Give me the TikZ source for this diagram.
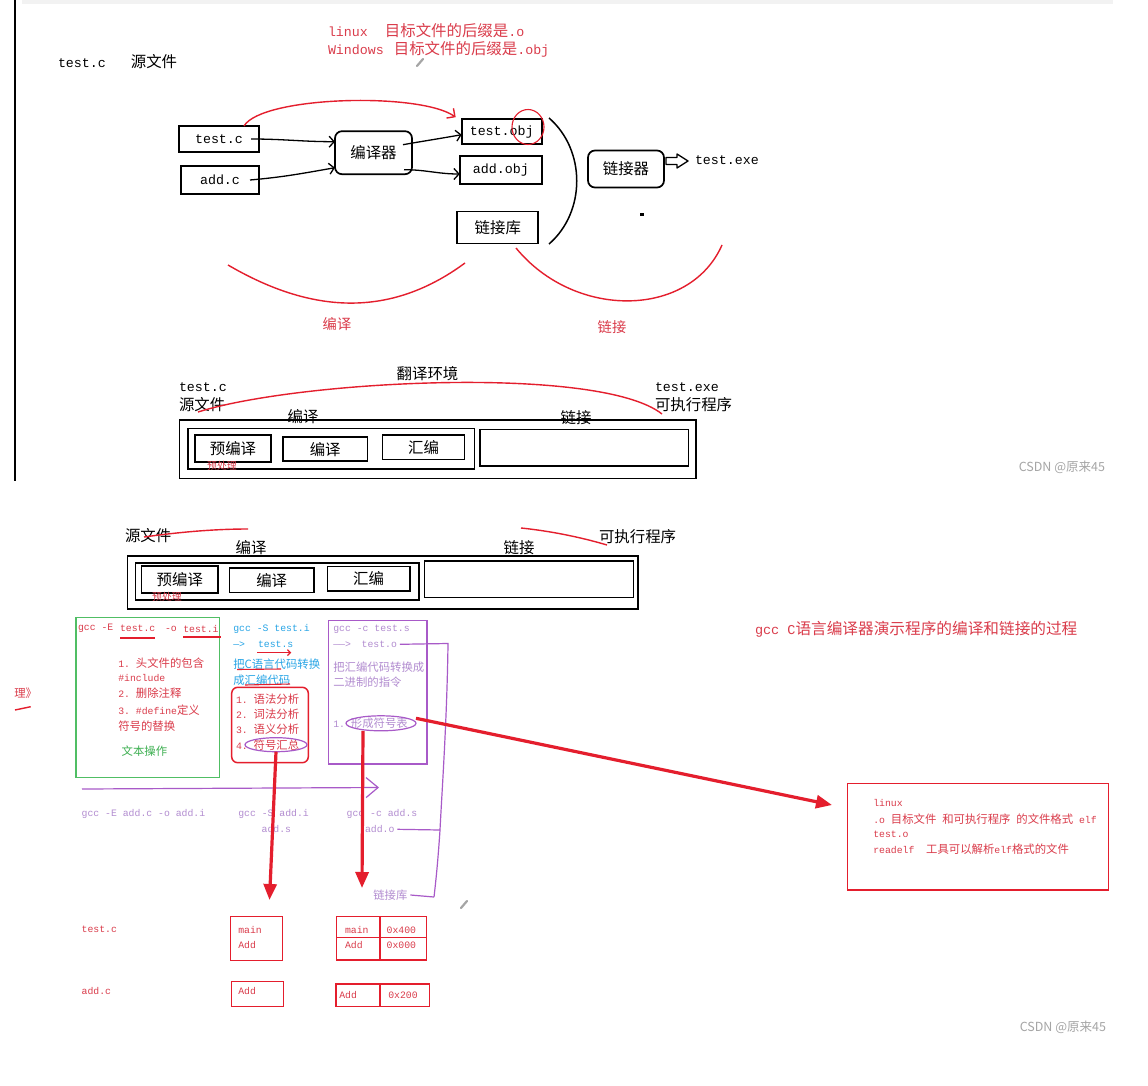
\documentclass[tikz,border=0pt]{standalone}
\usepackage{fontspec}
\setmainfont{Liberation Mono}
\newfontfamily\zhfont[Scale=1.16]{Noto Sans CJK SC}
\newfontfamily\wmfont{Noto Sans CJK SC}
\newcommand{\zh}[1]{{\zhfont #1}}
\usetikzlibrary{arrows.meta,shapes.geometric}
\definecolor{inkred}{RGB}{228,30,45}
\definecolor{txtred}{RGB}{218,60,75}
\definecolor{inkgreen}{RGB}{80,190,100}
\definecolor{txtgreen}{RGB}{60,175,80}
\definecolor{inkpurple}{RGB}{168,90,200}
\definecolor{txtpurple}{RGB}{178,140,208}
\definecolor{txtblue}{RGB}{40,165,230}
\definecolor{wmgray}{RGB}{165,165,165}
\frenchspacing

\begin{document}
\begin{tikzpicture}[x=1pt,y=-1pt,
  every node/.style={inner sep=0pt,outer sep=0pt},
  fbig/.style={font=\fontsize{13.3}{16}\selectfont},
  fmid/.style={font=\fontsize{12.3}{15}\selectfont},
  fsm/.style={font=\fontsize{9.8}{12}\selectfont},
  ftiny/.style={font=\fontsize{8.5}{10}\selectfont},
  frame/.style 2 args={draw,line width=1.7pt,minimum width=#1,minimum height=#2},
  rframe/.style 2 args={frame={#1}{#2},rounded corners=7pt},
  redframe/.style 2 args={draw=inkred,line width=1.5pt,minimum width=#1,minimum height=#2},
  ring/.style 2 args={ellipse,draw=inkpurple,line width=1.2pt,minimum width=#1,minimum height=#2},
  hand/.style={line width=1.3pt,-{Straight Barb[length=5pt,width=11pt]}},
  redpen/.style={inkred,line width=1.4pt},
  purpen/.style={inkpurple,line width=1.2pt},
  fatarrow/.style={inkred,line width=3.2pt,-{Triangle[length=16pt,width=13pt]}}]
\useasboundingbox (0,0) rectangle (1148,1086);
\fill[white] (0,0) rectangle (1148,1086);

% first screenshot
\fill[black!5] (22,0) rectangle (1113,4);
\draw[line width=1.5pt] (15,0) -- (15,481);
\node[fbig,anchor=west] (srcnote) at (58,62) {test.c\hspace{25pt}\zh{源文件}};
\node[fbig,anchor=west,text=txtred] (lnxnote) at (328,31) {linux\hspace{17pt}\zh{目标文件的后缀是}.o};
\node[fbig,anchor=west,text=txtred] (winnote) at (328,49) {Windows\hspace{10pt}\zh{目标文件的后缀是}.obj};
\draw[wmgray,line width=2.2pt,line cap=round] (417,66) -- (423,59);

\node[frame={80}{26},fbig] (testc) at (219,139) {test.c};
\node[frame={78}{28},fbig] (addc) at (220,180) {add.c\hspace{10pt}};
\node[rframe={77}{43},fbig] (compiler) at (373.5,152.7) {\zh{编译器}\hspace{11pt}};
\node[frame={80}{25},fbig] (testobj) at (501.7,131.7) {test.obj};
\node[frame={82}{28},fbig] (addobj) at (500.8,170) {add.obj\hspace{8pt}};
\node[frame={81}{32},fbig] (library) at (497.8,227.5) {\zh{链接库}\hspace{30pt}};
\node[rframe={76}{37},fbig] (linker) at (626,169) {\zh{链接器}\hspace{9pt}};
\node[fbig,anchor=west] (exe) at (695,160) {test.exe};
\coordinate (exq) at ([yshift=8pt]linker.east);
\draw[line width=1.3pt,line join=round] ([xshift=2pt,yshift=3.5pt]exq) -- ++(11,0) -- ++(0,-3.5)
  -- ++(11,7) -- ++(-11,7) -- ++(0,-3.5) -- ++(-11,0) -- cycle;
\fill (640,213) rectangle (644,216);

\draw[hand] ([xshift=-8pt]testc.east) to[out=0,in=180] ([yshift=11pt]compiler.west);
\draw[hand] ([xshift=-9pt]addc.east) to[out=5,in=190] ([yshift=-15pt]compiler.west);
\draw[hand] ([xshift=-9pt,yshift=8pt]compiler.east) to[out=10,in=190] ([yshift=-3pt]testobj.west);
\draw[hand] ([xshift=-8pt,yshift=-17pt]compiler.east) to[out=0,in=180] ([yshift=-4pt]addobj.west);
\draw[redpen,-{Straight Barb[length=6pt,width=12pt]}] ([xshift=25pt]testc.north)
  .. controls (262,96) and (420,92) .. ([xshift=-6pt,yshift=2pt]testobj.north west);
\node[ellipse,draw=inkred,line width=1.1pt,minimum width=32,minimum height=35] (objmark) at (528,127) {};
\draw[line width=1.5pt] (549,118) .. controls (586,150) and (586,212) .. (549,244);

\draw[redpen] (228,265) .. controls (305,310) and (385,322) .. (465,263);
\draw[redpen] (516,248) .. controls (575,320) and (690,318) .. (722,245);
\node[fmid,text=txtred] (labcomp) at (337,324) {\zh{编译}};
\node[fmid,text=txtred] (lablink) at (612,327) {\zh{链接}};

% translation environment
\node[fbig,anchor=west] (srcA1) at (179,387.5) {test.c};
\node[fbig,anchor=west] (srcA2) at (179,405) {\zh{源文件}};
\node[fbig] (envlab) at (427.5,374) {\zh{翻译环境}};
\node[fbig,anchor=west] (exeA1) at (655,387.5) {test.exe};
\node[fbig,anchor=west] (exeA2) at (655,405) {\zh{可执行程序}};
\draw[redpen] (198,412) .. controls (300,380) and (600,365) .. (662,414);
\node[frame={516.7}{58.3}] (outerA) at (437.7,449.2) {};
\node[frame={286.6}{40.7}] (compA) at (331.1,448.7) {};
\node[frame={75.5}{26.7},fbig] (preA) at (233,448.4) {\zh{预编译}\hspace{11pt}};
\node[frame={84.4}{24},fbig] (ccA) at (325.2,449.3) {\zh{编译}\hspace{20pt}};
\node[frame={81.8}{24.3},fbig] (asmA) at (423.5,447.2) {\zh{汇编}\hspace{23pt}};
\node[frame={208.5}{36.7}] (lnkA) at (584.2,447.7) {};
\node[fbig] (complabA) at (303,416.7) {\zh{编译}};
\node[fbig] (linklabA) at (576,417.5) {\zh{链接}};
\node[ftiny,text=txtred] (ppA) at (222,466) {\zh{预处理}};

% second screenshot
\node[fbig,anchor=west] (srcC) at (125,536) {\zh{源文件}};
\draw[redpen] (144,537) .. controls (180,532) and (215,529) .. (248,529);
\node[fbig,anchor=west] (exeC) at (599,536.5) {\zh{可执行程序}};
\draw[redpen] (521,528) .. controls (550,531) and (580,537) .. (607,545);
\node[frame={510.3}{53}] (outerC) at (382.5,582.5) {};
\node[frame={283.5}{37}] (compC) at (277.3,581.5) {};
\node[frame={76.4}{26.7},fbig] (preC) at (179.8,579.4) {\zh{预编译}\hspace{17pt}};
\node[frame={84.5}{24.3},fbig] (ccC) at (271.7,580.2) {\zh{编译}\hspace{25pt}};
\node[frame={82.5}{24.2},fbig] (asmC) at (368.6,578.6) {\zh{汇编}\hspace{19pt}};
\node[frame={209}{36.3}] (lnkC) at (529,579.2) {};
\node[fbig] (complabC) at (251,548) {\zh{编译}};
\node[fbig] (linklabC) at (519,548) {\zh{链接}};
\node[ftiny,text=txtred] (ppC) at (167,596.5) {\zh{预处理}};

% preprocessing column
\node[draw=inkgreen,line width=1.6pt,minimum width=143.3,minimum height=160] (prebox) at (147.7,697.3) {};
\node[fsm,anchor=west,text=txtred] (gccE) at (78,628.5) {gcc -E};
\node[fsm,anchor=west,text=txtred] (tcE) at (120,628.5) {test.c};
\node[fsm,anchor=west,text=txtred] (oE) at (165,628.5) {-o};
\node[fsm,anchor=west,text=txtred] (tiE) at (183.3,628.5) {test.i};
\draw[redpen] ([yshift=-6pt]tcE.south west) -- ([yshift=-6pt]tcE.south east);
\draw[redpen] ([yshift=-5pt]tiE.south west) -- ([yshift=-5pt,xshift=2pt]tiE.south east);
\foreach \y/\t [count=\i] in {662.7/{1. \zh{头文件的包含}},678.3/{\#include},692.7/{2. \zh{删除注释}},
    710/{3. \#define\zh{定义}},726/{\zh{符号的替换}}}
  \node[fsm,anchor=west,text=txtred] (prep\i) at (118.3,\y) {\t};
\node[fsm,anchor=west,text=txtgreen] (txtop) at (121.7,750.7) {\zh{文本操作}};

% compile column
\node[fsm,anchor=west,text=txtblue] (cmdS) at (233.3,629.3) {gcc -S test.i};
\node[fsm,anchor=west,text=txtblue] (arrS) at (233.3,644.3) {—>};
\node[fsm,anchor=west,text=txtblue] (tsS) at (258,644.3) {test.s};
\draw[redpen,line width=1.2pt,-{Straight Barb[length=3pt,width=6pt]}] ([xshift=-1pt,yshift=-5pt]tsS.south west) -- ([xshift=-2pt,yshift=-5pt]tsS.south east);
\node[fsm,anchor=west,text=txtblue] (cvtA) at (233.3,664) {\zh{把C语言代码转换}};
\node[fsm,anchor=west,text=txtblue] (cvtB) at (233.3,680) {\zh{成汇编代码}};
\draw[redpen,line width=1.1pt] (237,669.5) -- (281,669);
\draw[redpen,line width=1.1pt] (245,685) -- (290,684);
\node[redframe={76.6}{75.4},rounded corners=6pt] (anabox) at (270,725) {};
\foreach \y/\t [count=\i] in {699.3/{1. \zh{语法分析}},714.3/{2. \zh{词法分析}},729.3/{3. \zh{语义分析}},745/{4. \zh{符号汇总}}}
  \node[fsm,anchor=west,text=txtred] (ana\i) at (236,\y) {\t};
\node[ring={62}{14}] (symsum) at (276,744.7) {};

% assemble column
\node[draw=inkpurple,line width=1.6pt,minimum width=98.4,minimum height=143.3] (asmbox) at (377.5,692.3) {};
\node[fsm,anchor=west,text=txtpurple] (cmdC) at (333.3,629.3) {gcc -c test.s};
\node[fsm,anchor=west,text=txtpurple] (arrO) at (333.3,644.3) {——>};
\node[fsm,anchor=west,text=txtpurple] (tsO) at (361.7,644.3) {test.o};
\node[fsm,anchor=west,text=txtpurple] (binA) at (333.3,667.3) {\zh{把汇编代码转换成}};
\node[fsm,anchor=west,text=txtpurple] (binB) at (333.3,681.7) {\zh{二进制的指令}};
\node[fsm,anchor=west,text=txtpurple] (symline) at (333.3,723.3) {1. \zh{形成符号表}};
\node[ring={70}{15}] (symtab) at (381,723.3) {};

\node[fsm,anchor=east,text=txtred] (cut) at (37,693) {\zh{理》}};
\draw[redpen] (15,710) -- (30.7,706.7);

% add.c row
\coordinate (arrL) at (82,789);
\coordinate (arrR) at (379,787.5);
\draw[purpen,-{Straight Barb[length=12pt,width=20pt]}] (arrL) -- (arrR);
\node[fsm,anchor=west,text=txtpurple] (gccE2) at (81.7,814) {gcc -E add.c -o add.i};
\node[fsm,anchor=west,text=txtpurple] (gccS2) at (238.3,814) {gcc -S add.i};
\node[fsm,anchor=west,text=txtpurple] (adds) at (261.7,829.3) {add.s};
\node[fsm,anchor=west,text=txtpurple] (gccC2) at (346.7,814) {gcc -c add.s};
\node[fsm,anchor=west,text=txtpurple] (addo) at (365,829.3) {add.o};
\node[fsm,anchor=west,text=txtpurple] (libc) at (373.3,895) {\zh{链接库}};
\coordinate (brT) at (448,643.5);
\coordinate (brM) at (440,830);
\coordinate (brB) at (434,897);
\draw[purpen] ([xshift=3pt]tsO.east) -- (brT) .. controls (447,720) and (442,790) .. (brM)
  .. controls (438,860) and (436,880) .. (brB);
\draw[purpen] ([xshift=3pt]addo.east) -- (brM);
\draw[purpen] ([xshift=3pt]libc.east) -- (brB);
\draw[wmgray,line width=2.2pt,line cap=round] (461,908) -- (467,901);

% title and elf note
\node[font=\fontsize{13.5}{16}\selectfont,anchor=west,text=txtred] (title) at (755,629.3)
  {gcc C\zh{语言编译器演示程序的编译和链接的过程}};
\node[draw=inkred,line width=1.3pt,minimum width=261,minimum height=106.7] (infobox) at (977.8,836.7) {};
\foreach \y/\t [count=\i] in {803.3/{linux},819/{.o \zh{目标文件} \zh{和可执行程序} \zh{的文件格式} elf},
    834/{test.o},849.3/{readelf\ \ \zh{工具可以解析}elf\zh{格式的文件}}}
  \node[fsm,anchor=west,text=txtred] (info\i) at (873.3,\y) {\t};

% symbol tables
\node[fsm,anchor=west,text=txtred] (tcB) at (81.7,929.3) {test.c};
\node[fsm,anchor=west,text=txtred] (acB) at (81.7,990.7) {add.c};
\node[redframe={52}{44}] (symA) at (256.7,938.7) {};
\node[redframe={51.6}{25}] (symB) at (257.5,994.2) {};
\node[redframe={90}{43.3}] (tableA) at (381.7,938.3) {};
\node[redframe={93.3}{22.7}] (tableB) at (382.7,995.3) {};
\draw[inkred,line width=1.5pt] ([xshift=-1.7pt]tableA.north) -- ([xshift=-1.7pt]tableA.south)
  ([yshift=1pt]tableA.west) -- ([yshift=1pt]tableA.east);
\draw[inkred,line width=1.5pt] ([xshift=-2.7pt]tableB.north) -- ([xshift=-2.7pt]tableB.south);
\foreach \x/\y/\t [count=\i] in {238.3/930/main,238.3/945/Add,238.3/990.7/Add,345/930/main,
    386.7/930/0x400,345/945/Add,386.7/945/0x000,339.3/995/Add,388.3/995/0x200}
  \node[fsm,anchor=west,text=txtred] (cell\i) at (\x,\y) {\t};

% red arrows
\coordinate (tipA) at (269.5,900);
\coordinate (tipB) at (362,888);
\coordinate (tipC) at (832,805);
\draw[fatarrow] (symsum.south) -- (tipA);
\draw[fatarrow] ([xshift=-18pt]symtab.south) -- (tipB);
\draw[fatarrow] ([yshift=5pt]symtab.east) -- (tipC);

\node[font=\wmfont\fontsize{12.5}{14}\selectfont,anchor=east,text=wmgray] (wmA) at (1105,467) {CSDN @原来45};
\node[font=\wmfont\fontsize{12.5}{14}\selectfont,anchor=east,text=wmgray] (wmB) at (1106,1027) {CSDN @原来45};
\end{tikzpicture}
\end{document}
